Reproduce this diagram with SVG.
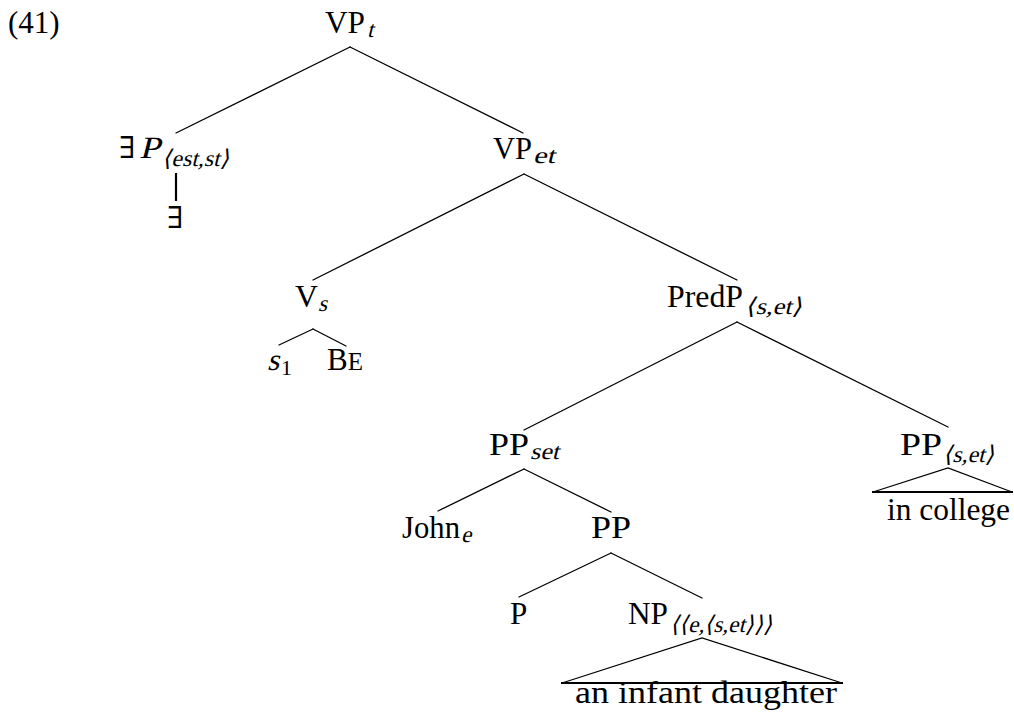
<svg xmlns="http://www.w3.org/2000/svg" width="1014" height="721" viewBox="0 0 1014 721">
<style>
text{font-family:"Liberation Serif","DejaVu Serif",serif;font-size:31px;fill:#000}
.sub{font-size:23px}
.sc{font-size:25px}
.num{font-size:22px}
.ex{font-family:"DejaVu Serif","Liberation Serif",serif;font-size:30px}
#edges line{stroke:#000;stroke-width:1.3;stroke-linecap:round}
#edges line.thick{stroke-width:2.2;stroke-linecap:butt}
#edges polyline{fill:none;stroke:#000;stroke-width:1.3}
</style>
<rect width="1014" height="721" fill="#fff"/>
<g id="label"><text x="8" y="33">(41)</text></g>
<g id="edges">
<line x1="350" y1="47" x2="176" y2="133"/>
<line x1="350" y1="47" x2="523" y2="133"/>
<line class="thick" x1="176" y1="173" x2="176" y2="201"/>
<line x1="524" y1="174" x2="313" y2="280"/>
<line x1="524" y1="174" x2="737" y2="280"/>
<line x1="313" y1="329" x2="279" y2="345"/>
<line x1="313" y1="329" x2="346" y2="346"/>
<line x1="737" y1="322" x2="524" y2="430"/>
<line x1="737" y1="322" x2="948" y2="427"/>
<line x1="524" y1="469" x2="438" y2="511"/>
<line x1="524" y1="469" x2="611" y2="512"/>
<line x1="611" y1="553" x2="519" y2="597"/>
<line x1="611" y1="553" x2="702" y2="598"/>
<polyline points="873,492 948,468 1012,492"/>
<line class="thick" x1="872" y1="492" x2="1013" y2="492"/>
<polyline points="562,683 702,638 842,683"/>
<line class="thick" x1="561" y1="683" x2="843" y2="683"/>
</g>
<g id="n-vpt"><text x="325" y="33" textLength="40" lengthAdjust="spacingAndGlyphs">VP</text><text class="sub" transform="translate(367,37) skewX(-14)">t</text></g>
<g id="n-existsP"><text class="ex" x="119" y="158">∃</text><text transform="translate(139,158) skewX(-14)" textLength="21" lengthAdjust="spacingAndGlyphs">P</text><text class="sub" transform="translate(162,166) skewX(-14)" textLength="67" lengthAdjust="spacingAndGlyphs">⟨est,st⟩</text></g>
<g id="n-exists"><text class="ex" x="167" y="228">∃</text></g>
<g id="n-vpet"><text x="493" y="159" textLength="39" lengthAdjust="spacingAndGlyphs">VP</text><text class="sub" transform="translate(533,163) skewX(-14)" textLength="22" lengthAdjust="spacingAndGlyphs">et</text></g>
<g id="n-vs"><text x="295" y="307" textLength="23" lengthAdjust="spacingAndGlyphs">V</text><text class="sub" transform="translate(318,311) skewX(-14)">s</text></g>
<g id="n-s1"><text transform="translate(267,370) skewX(-14)" font-size="30">s</text><text class="num" x="281" y="375">1</text></g>
<g id="n-be"><text x="327" y="370">B<tspan class="sc">E</tspan></text></g>
<g id="n-predp"><text x="667" y="307" textLength="76" lengthAdjust="spacingAndGlyphs">PredP</text><text class="sub" transform="translate(745,314) skewX(-14)" textLength="57" lengthAdjust="spacingAndGlyphs">⟨s,et⟩</text></g>
<g id="n-ppset"><text x="489" y="455" textLength="40" lengthAdjust="spacingAndGlyphs">PP</text><text class="sub" transform="translate(530,459) skewX(-14)" textLength="29" lengthAdjust="spacingAndGlyphs">set</text></g>
<g id="n-ppset2"><text x="900" y="455" textLength="42" lengthAdjust="spacingAndGlyphs">PP</text><text class="sub" transform="translate(943,462) skewX(-14)" textLength="51" lengthAdjust="spacingAndGlyphs">⟨s,et⟩</text></g>
<g id="n-incollege"><text x="887" y="520" textLength="123" lengthAdjust="spacingAndGlyphs">in college</text></g>
<g id="n-john"><text x="402" y="538" textLength="58" lengthAdjust="spacingAndGlyphs">John</text><text class="sub" transform="translate(461,542) skewX(-14)">e</text></g>
<g id="n-pp"><text x="591" y="538" textLength="40" lengthAdjust="spacingAndGlyphs">PP</text></g>
<g id="n-p"><text x="510" y="624">P</text></g>
<g id="n-np"><text x="628" y="624" textLength="40" lengthAdjust="spacingAndGlyphs">NP</text><text class="sub" transform="translate(670,632) skewX(-14)" textLength="102" lengthAdjust="spacingAndGlyphs">⟨⟨e,⟨s,et⟩⟩⟩</text></g>
<g id="n-daughter"><text x="575" y="703" textLength="262" lengthAdjust="spacingAndGlyphs">an infant daughter</text></g>
</svg>
